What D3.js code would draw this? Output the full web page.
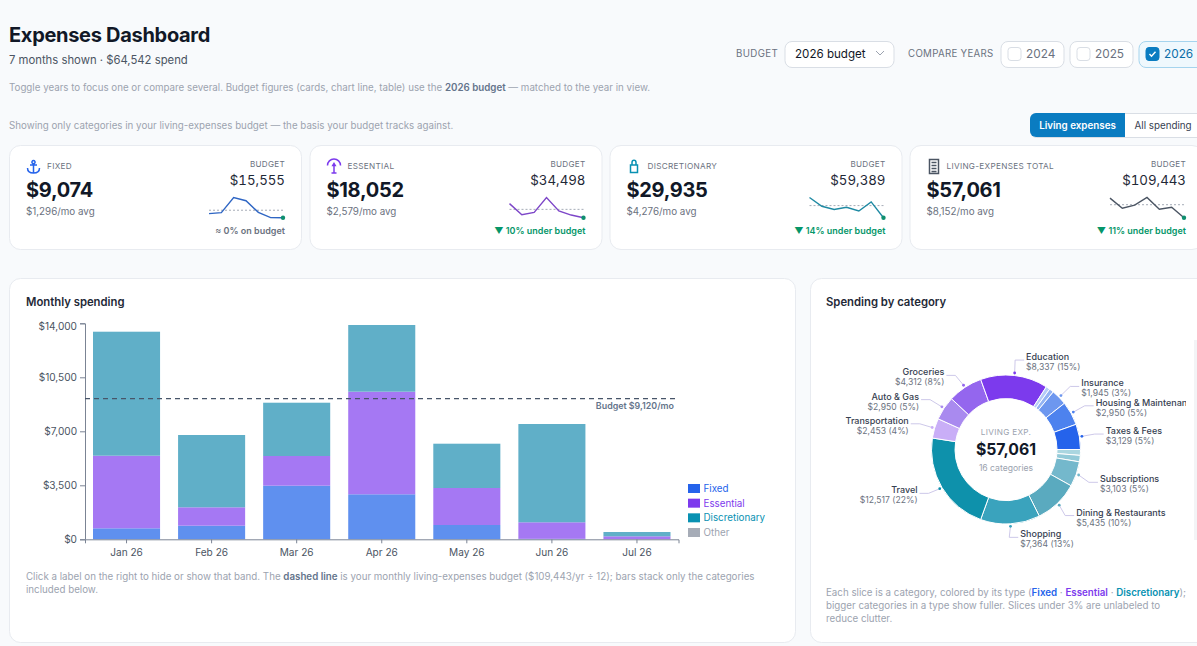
<!DOCTYPE html>
<html><head><meta charset="utf-8">
<script src="https://cdn.jsdelivr.net/npm/d3@7"></script>
<style>
html,body{margin:0;padding:0;background:#f8fafc;overflow:hidden}
svg{display:block;font-family:Inter,"Noto Sans",sans-serif}
.tab{font-variant-numeric:tabular-nums}
</style></head><body><svg id="c" width="1197" height="646"></svg>
<script>
const months=["Jan 26","Feb 26","Mar 26","Apr 26","May 26","Jun 26","Jul 26"];
const fixedVals=[713,881,3474,2917,927,30,0];
const essentialVals=[4705,1193,1925,6650,2398,1072,194];
const discretionaryVals=[8037,4686,3454,4323,2871,6371,279];
const otherVals=[0,0,0,0,0,0,0];
const bands=["Fixed","Essential","Discretionary","Other"];
const bandColors=["#2563eb","#7c3aed","#0891b2","#9ca3af"];
const barColors=["#5f90ef","#a578f3","#60afc8","#9ca3af"];
const yTicks=[0,3500,7000,10500,14000];
const monthlyBudget=9120;

const sliceNames=["Minor disc. A","Minor disc. B","Subscriptions","Dining & Restaurants","Shopping","Travel","Transportation","Auto & Gas","Groceries","Education","Minor fixed A","Minor fixed B","Insurance","Housing & Maintenance","Taxes & Fees"];
const sliceValues=[720,796,3103,5435,7364,12517,2453,2950,4312,8337,500,550,1945,2950,3129];
const slicePct=[1,1,5,10,13,22,4,5,8,15,1,1,3,5,5];
const sliceColors=["#aad6e0","#93cad8","#74b8cc","#5aaabf","#3aa3bd","#0e91ab","#c9aef7","#a98aef","#9466ee","#7c3aed","#b5ccf8","#93b4f4","#6d97ef","#4d82ee","#2563eb"];
const labelNudgeY=[0,0,3,1,-2,-2,0,0,1,0,0,0,0,0,0];
const labelNudgeX=[0,0,-2,-3,-2,0,0,-1,-1,-1,0,0,0,0,0];

const cardLabels=["FIXED","ESSENTIAL","DISCRETIONARY","LIVING-EXPENSES TOTAL"];
const cardValues=["$9,074","$18,052","$29,935","$57,061"];
const cardAvgs=["$1,296/mo avg","$2,579/mo avg","$4,276/mo avg","$8,152/mo avg"];
const cardBudgets=["$15,555","$34,498","$59,389","$109,443"];
const cardBudgetNums=[15555,34498,59389,109443];
const cardStatus=["≈ 0% on budget","▼ 10% under budget","▼ 14% under budget","▼ 11% under budget"];
const cardStatusColors=["#6b7280","#059669","#059669","#059669"];
const cardLine=["#2f66c4","#7d46c8","#1f8aa3","#4b5563"];
const totals=months.map((_,i)=>fixedVals[i]+essentialVals[i]+discretionaryVals[i]);
const cardSeries=[fixedVals,essentialVals,discretionaryVals,totals];

const svg=d3.select("#c");
const T=(g,x,y,s,o={})=>g.append("text").attr("x",x).attr("y",y).text(s)
  .attr("font-size",o.size||11).attr("fill",o.fill||"#374151").attr("font-weight",o.w||400)
  .attr("text-anchor",o.a||"start").attr("letter-spacing",o.ls||null).attr("class",o.cls||null);
const box=(g,x,y,w,h,r,fill,stroke)=>g.append("rect").attr("x",x).attr("y",y).attr("width",w).attr("height",h).attr("rx",r)
  .attr("fill",fill).attr("stroke",stroke).attr("stroke-width",1);

// header
T(svg,9,42,"Expenses Dashboard",{size:20,w:700,fill:"#111827",ls:-.3});
T(svg,9,64,"7 months shown · $64,542 spend",{size:11.3,fill:"#4b5563"});
const note=T(svg,9,91,"Toggle years to focus one or compare several. Budget figures (cards, chart line, table) use the ",{size:9.75,fill:"#9ca3af"});
note.append("tspan").text("2026 budget").attr("font-weight",600).attr("fill","#64748b");
note.append("tspan").text(" — matched to the year in view.");
T(svg,9,129,"Showing only categories in your living-expenses budget — the basis your budget tracks against.",{size:9.75,fill:"#9ca3af"});

// controls
T(svg,736,57,"BUDGET",{size:9.7,fill:"#6b7280",ls:.4});
box(svg,785,41.5,109,26,7,"#fff","#d9dee5");
T(svg,795,58,"2026 budget",{size:11.6,fill:"#111827"});
svg.append("path").attr("d","M876 51l4 4 4-4").attr("fill","none").attr("stroke","#9ca3af");
T(svg,908,57,"COMPARE YEARS",{size:9.7,fill:"#6b7280",ls:.3});
[["2024",1001,false],["2025",1070,false],["2026",1139,true]].forEach(([y,x,on])=>{
  box(svg,x,41.5,on?70:63,26,7,on?"#eff8fd":"#fff",on?"#a5d4ee":"#d9dee5");
  box(svg,x+7,47.5,13,13,3,on?"#0a7cc1":"#fff",on?"#0a7cc1":"#d9dee5");
  if(on) svg.append("path").attr("d",`M${x+10.5} 54l2 2.2 4-4.4`).attr("fill","none").attr("stroke","#fff").attr("stroke-width",1.4);
  T(svg,x+25,58,y,{size:11.8,fill:on?"#0a6ea8":"#6b7280"});
});
box(svg,1030.5,113.5,180,24,6,"#fff","#d9dee5");
svg.append("path").attr("d","M1125 113H1036a6 6 0 0 0-6 6v12a6 6 0 0 0 6 6H1125Z").attr("fill","#0a7cc1");
T(svg,1077.5,129,"Living expenses",{size:9.8,fill:"#fff",w:600,a:"middle"});
T(svg,1134.5,129,"All spending",{size:9.8,fill:"#374151"});

// KPI cards
const cardX=[9.5,310,610,910];
const iconPaths=[
 "M0-6a1.6 1.6 0 1 0 .01 0M0-3V6M-3.5-1.5H3.5M-6 1.5C-6 5 -3 6.5 0 6.5S6 5 6 1.5",
 "M-6.5 -1A6.5 6.5 0 0 1 6.5 -1M0 -1V6.5M-2.5 6.5H2.5M-1.2-1L0-3L1.2-1Z",
 "M-3.5-1.5H3.5V6H-3.5ZM-2-1.5V-4A2 2.2 0 0 1 2-4V-1.5",
 "M-4.5-7H4.5V7H-4.5ZM-2.5-4H2.5M-2.5-1H2.5M-2.5 2H2.5M-2.5 5H2.5"];
const iconColors=["#2563eb","#7c3aed","#0891b2","#4b5563"];
cardLabels.forEach((lab,i)=>{
  const x0=cardX[i], w=i==3?293:292;
  const g=svg.append("g");
  box(g,x0,145.5,w,104,11,"#fff","#e8ebf0");
  const r=x0+(i==3?276:275.5), l=x0+16.5;
  g.append("path").attr("d",iconPaths[i]).attr("transform",`translate(${l+7.5},166.5)`).attr("fill","none").attr("stroke",iconColors[i]).attr("stroke-width",1.5);
  T(g,l+(i==3?20:21),169,lab,{size:8.2,fill:"#6b7280",ls:.3});
  T(g,l,197,cardValues[i],{size:20,w:700,fill:"#111827",ls:-.3});
  T(g,l,215,cardAvgs[i],{size:9.8,fill:"#6b7280"});
  T(g,r,167,"BUDGET",{size:8.1,fill:"#6b7280",a:"end",ls:.3});
  T(g,r,185,cardBudgets[i],{size:13.3,fill:"#1f2937",a:"end",cls:"tab"});
  T(g,r,234,cardStatus[i],{size:9,w:600,fill:cardStatusColors[i],a:"end"});
  const s=cardSeries[i];
  const sx=d3.scalePoint().domain(months).range([r-76,r-2]);
  const sy=d3.scaleLinear().domain(d3.extent(s)).range([217.8,197.5]);
  g.append("line").attr("x1",r-76).attr("x2",r-2).attr("y1",sy(cardBudgetNums[i]/12)).attr("y2",sy(cardBudgetNums[i]/12))
    .attr("stroke","#9ca3af").attr("stroke-width",.9).attr("stroke-dasharray","2 2");
  g.append("path").attr("d",d3.line().x((d,k)=>sx(months[k])).y(d=>sy(d))(s)).attr("fill","none").attr("stroke",cardLine[i]).attr("stroke-width",1.4);
  g.append("circle").attr("cx",sx(months[6])).attr("cy",sy(s[6])).attr("r",2.2).attr("fill","#0f8f6f");
});

// monthly card
box(svg,9.5,278.5,786,364,11,"#fff","#e8ebf0");
T(svg,26,306,"Monthly spending",{size:11.3,w:600,fill:"#1f2937"});
const x=d3.scaleBand().domain(months).range([85,678.5]).paddingInner(18/85).paddingOuter(8/85);
const y=d3.scaleLinear().domain([0,14000]).range([539.3,323.3]);
const stack=d3.stack().keys(bands)(months.map((m,i)=>({m,Fixed:fixedVals[i],Essential:essentialVals[i],Discretionary:discretionaryVals[i],Other:otherVals[i]})));
svg.append("g").selectAll("g").data(stack).join("g").attr("fill",(d,i)=>barColors[i])
  .selectAll("rect").data(d=>d).join("rect")
  .attr("x",d=>x(d.data.m)).attr("width",x.bandwidth()).attr("y",d=>y(d[1])).attr("height",d=>y(d[0])-y(d[1]));
const axY=svg.append("g").attr("transform","translate(85,0)").call(d3.axisLeft(y).tickValues(yTicks).tickFormat(d3.format("$,")).tickSize(5));
const axX=svg.append("g").attr("transform","translate(0,539.3)").call(d3.axisBottom(x).tickSize(4));
[axY,axX].forEach(a=>{a.selectAll("text").attr("font-size",10.1).attr("fill","#4b5563").attr("font-family","Inter");a.selectAll("path,line").attr("stroke","#7b8494");});
axX.selectAll("text").attr("dy","0.95em");
axY.selectAll("text").attr("dy","0.32em").filter(d=>d==14000).attr("dy","0.65em");
svg.append("line").attr("x1",85).attr("x2",679).attr("y1",y(monthlyBudget)).attr("y2",y(monthlyBudget))
  .attr("stroke","#475569").attr("stroke-width",1.3).attr("stroke-dasharray","5 4");
T(svg,674,409,"Budget $9,120/mo",{size:8.9,w:600,fill:"#64748b",a:"end"});
const leg=d3.scalePoint().domain(bands).range([488,532]);
bands.forEach((b,i)=>{
  svg.append("rect").attr("x",688).attr("y",leg(b)-4).attr("width",12).attr("height",9).attr("fill",bandColors[i]).attr("opacity",i==3?.9:1);
  T(svg,703.5,leg(b)+4,b,{size:9.8,fill:i==3?"#9ca3af":bandColors[i]});
});
const fn=T(svg,26,580,"Click a label on the right to hide or show that band. The ",{size:9.76,fill:"#9ca3af"});
fn.append("tspan").text("dashed line").attr("font-weight",600).attr("fill","#64748b");
fn.append("tspan").text(" is your monthly living-expenses budget ($109,443/yr ÷ 12); bars stack only the categories");
T(svg,26,593,"included below.",{size:9.76,fill:"#9ca3af"});

// donut card
box(svg,810.5,278.5,420,364,11,"#fff","#e8ebf0");
svg.append("rect").attr("x",1194).attr("y",340).attr("width",3).attr("height",200).attr("fill","#f3f4f6");
T(svg,826,306,"Spending by category",{size:11.3,w:600,fill:"#1f2937"});
const cx=1006,cy=449.5;
const pie=d3.pie().sort(null).value(d=>d).startAngle(Math.PI/2).endAngle(Math.PI/2+2*Math.PI)(sliceValues);
const arc=d3.arc().innerRadius(51).outerRadius(74.5);
const dg=svg.append("g").attr("transform",`translate(${cx},${cy})`);
dg.selectAll("path").data(pie).join("path").attr("d",arc).attr("fill",(d,i)=>sliceColors[i]).attr("stroke","#fff").attr("stroke-width",1);
const pt=(a,r)=>[r*Math.sin(a),-r*Math.cos(a)];
svg.append("clipPath").attr("id","lc").append("rect").attr("x",810).attr("y",320).attr("width",376).attr("height",240);
const lg=svg.append("g").attr("clip-path","url(#lc)");
pie.forEach((d,i)=>{
  if(slicePct[i]<3) return;
  const a=(d.startAngle+d.endAngle)/2, right=Math.sin(a)>0;
  const p0=pt(a,77), p1=pt(a,90);
  const ex=cx+p1[0]+labelNudgeX[i], ey=cy+p1[1]+labelNudgeY[i], lx=ex+(right?9:-9);
  lg.append("path").attr("d",d3.line()([[cx+p0[0],cy+p0[1]],[ex,ey],[lx,ey]])).attr("fill","none").attr("stroke","#c7c2e6").attr("stroke-width",.9);
  lg.append("circle").attr("cx",cx+p0[0]).attr("cy",cy+p0[1]).attr("r",1.4).attr("fill",sliceColors[i]);
  const tx=lx+(right?2:-2), an=right?"start":"end";
  T(lg,tx,ey,sliceNames[i],{size:9,w:500,fill:"#374151",a:an});
  T(lg,tx,ey+10,"$"+d3.format(",")(sliceValues[i])+" ("+slicePct[i]+"%)",{size:8.6,fill:"#6b7280",a:an});
});
T(svg,1006,435,"LIVING EXP.",{size:8.2,fill:"#9ca3af",a:"middle",ls:.3});
T(svg,1006,455,"$57,061",{size:15.8,w:700,fill:"#111827",a:"middle"});
T(svg,1006,471,"16 categories",{size:8.6,fill:"#9ca3af",a:"middle"});
const dn=T(svg,826,596,"Each slice is a category, colored by its type (",{size:9.75,fill:"#9ca3af"});
dn.append("tspan").text("Fixed").attr("font-weight",600).attr("fill","#2563eb");
dn.append("tspan").text(" · ");
dn.append("tspan").text("Essential").attr("font-weight",600).attr("fill","#7c3aed");
dn.append("tspan").text(" · ");
dn.append("tspan").text("Discretionary").attr("font-weight",600).attr("fill","#0891b2");
dn.append("tspan").text(");");
T(svg,826,609,"bigger categories in a type show fuller. Slices under 3% are unlabeled to",{size:9.75,fill:"#9ca3af"});
T(svg,826,622,"reduce clutter.",{size:9.75,fill:"#9ca3af"});
</script></body></html>
